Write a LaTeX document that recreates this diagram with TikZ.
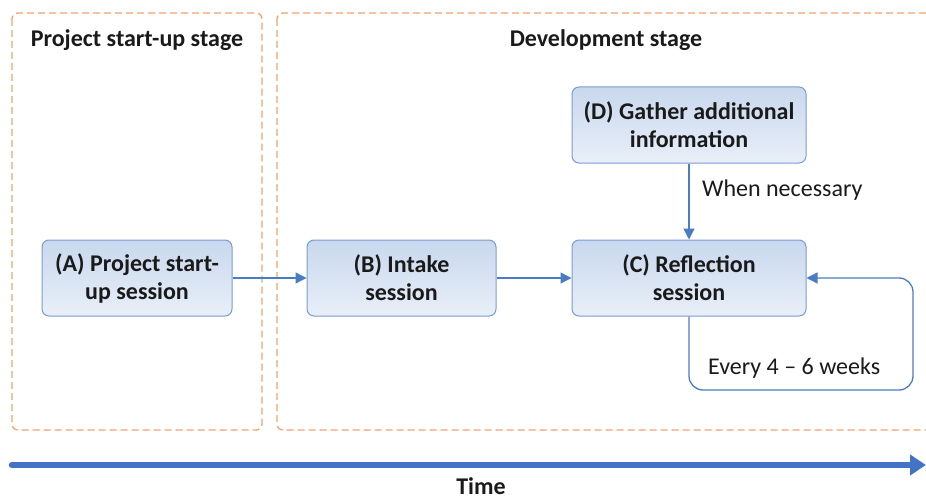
\documentclass[tikz,border=0pt]{standalone}
\usepackage{fontspec}
\setmainfont{Carlito}
\usetikzlibrary{arrows.meta}
\definecolor{stageor}{HTML}{F0A46E}
\definecolor{boxline}{HTML}{7A9CCF}
\definecolor{boxtop}{HTML}{C9D8EE}
\definecolor{boxbot}{HTML}{E8EFF8}
\definecolor{conn}{HTML}{4A7CC4}
\definecolor{timeblue}{HTML}{4472C4}
\definecolor{txt}{HTML}{1A1A1A}
\tikzset{
  stagebox/.style={draw=stageor, line width=1.3pt, dash pattern=on 7pt off 4pt, rounded corners=6pt},
  stagetitle/.style={font=\bfseries\fontsize{24}{28}\selectfont, text=txt},
  procbox/.style={draw=boxline, line width=1pt, rounded corners=7pt, top color=boxtop, bottom color=boxbot,
    minimum width=#1, minimum height=76pt, align=center, inner sep=0pt,
    font=\bfseries\fontsize{24}{28}\selectfont, text=txt},
  procbox/.default=190pt,
  conn/.style={draw=conn, line width=1.3pt, -{Triangle[width=11pt,length=11pt]}},
  lbl/.style={font=\fontsize{24}{28}\selectfont, text=txt, anchor=west, inner sep=0pt},
}
\begin{document}
\begin{tikzpicture}[x=1pt,y=-1pt]
\clip (0,0) rectangle (926,500);
\fill[white] (0,0) rectangle (926,500);
% stage boxes
\draw[stagebox] (12,13) rectangle (262,430);
\draw[stagebox] (277,13) rectangle (945,430);
\node[stagetitle] (t1) at (137,40) {Project start-up stage};
\node[stagetitle] (t2) at (606,40) {Development stage};
% process boxes
\node[procbox=190pt] (A) at (137,278) {(A) Project start-\\up session};
\node[procbox=189pt] (B) at (401.5,278) {(B) Intake\\session};
\node[procbox=234pt] (C) at (689,278) {(C) Reflection\\session};
\node[procbox=234pt] (D) at (689,125) {(D) Gather additional\\information};
% connectors
\draw[conn] (A) -- (B);
\draw[conn] (B) -- (C);
\draw[conn] (D) -- (C);
\node[lbl] (wn) at (702,190) {When necessary};
\coordinate (l1) at (689,390);
\coordinate (l2) at (913,390);
\coordinate (l3) at (913,278);
\draw[conn, rounded corners=14pt] (C.south) -- (l1) -- (l2) -- (l3) -- (C.east);
\node[lbl] (ev) at (708,368) {Every 4 – 6 weeks};
% time axis
\coordinate (ts) at (12,465);
\coordinate (te) at (926,465);
\draw[timeblue, line width=6.5pt, line cap=round, -{Triangle[width=20pt,length=16pt]}] (ts) -- (te);
\node[font=\bfseries\fontsize{24}{28}\selectfont, text=txt, anchor=base, inner sep=0pt] (time) at (481,494) {Time};
\end{tikzpicture}
\end{document}
